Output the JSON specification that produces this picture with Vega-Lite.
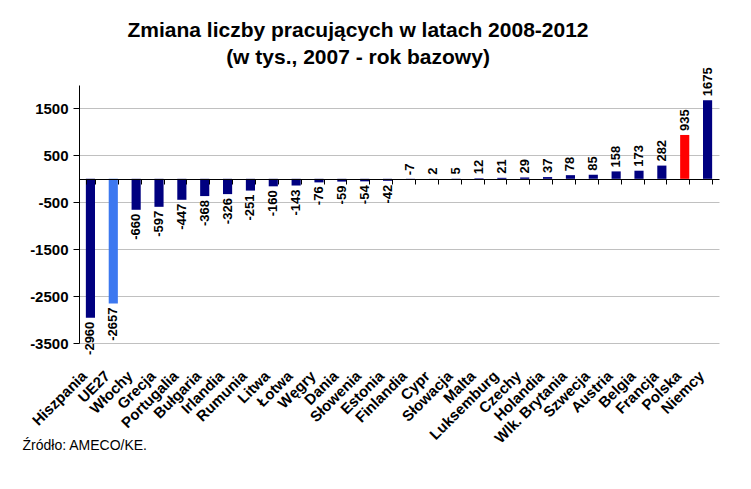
{
  "$schema": "https://vega.github.io/schema/vega-lite/v6.json",
  "width": 640,
  "height": 258,
  "autosize": "none",
  "padding": {"left": 79, "top": 85, "right": 32, "bottom": 146},
  "background": "white",
  "config": {
    "view": {"stroke": null},
    "font": "Liberation Sans",
    "locale": {
      "number": {"decimal": ".", "thousands": "", "grouping": [3], "currency": ["", ""], "minus": "-"}
    }
  },
  "title": {
    "text": ["Zmiana liczby pracujących w latach 2008-2012", "(w tys., 2007 - rok bazowy)"],
    "font": "Liberation Sans",
    "fontSize": 21,
    "fontWeight": "bold",
    "lineHeight": 27,
    "color": "black",
    "anchor": "middle",
    "dx": -41,
    "offset": -1
  },
  "data": {
    "values": [
      {"kraj": "Hiszpania", "wartosc": -2960},
      {"kraj": "UE27", "wartosc": -2657},
      {"kraj": "Włochy", "wartosc": -660},
      {"kraj": "Grecja", "wartosc": -597},
      {"kraj": "Portugalia", "wartosc": -447},
      {"kraj": "Bułgaria", "wartosc": -368},
      {"kraj": "Irlandia", "wartosc": -326},
      {"kraj": "Rumunia", "wartosc": -251},
      {"kraj": "Litwa", "wartosc": -160},
      {"kraj": "Łotwa", "wartosc": -143},
      {"kraj": "Węgry", "wartosc": -76},
      {"kraj": "Dania", "wartosc": -59},
      {"kraj": "Słowenia", "wartosc": -54},
      {"kraj": "Estonia", "wartosc": -42},
      {"kraj": "Finlandia", "wartosc": -7},
      {"kraj": "Cypr", "wartosc": 2},
      {"kraj": "Słowacja", "wartosc": 5},
      {"kraj": "Malta", "wartosc": 12},
      {"kraj": "Luksemburg", "wartosc": 21},
      {"kraj": "Czechy", "wartosc": 29},
      {"kraj": "Holandia", "wartosc": 37},
      {"kraj": "Wlk. Brytania", "wartosc": 78},
      {"kraj": "Szwecja", "wartosc": 85},
      {"kraj": "Austria", "wartosc": 158},
      {"kraj": "Belgia", "wartosc": 173},
      {"kraj": "Francja", "wartosc": 282},
      {"kraj": "Polska", "wartosc": 935},
      {"kraj": "Niemcy", "wartosc": 1675}
    ]
  },
  "encoding": {
    "y": {
      "field": "wartosc",
      "type": "quantitative",
      "scale": {"domain": [-3500, 2000], "nice": false},
      "axis": {
        "title": null,
        "values": [-3500, -2500, -1500, -500, 500, 1500],
        "format": "d",
        "grid": true,
        "gridColor": "#C0C0C0",
        "domainColor": "black",
        "tickColor": "black",
        "tickSize": 6,
        "labelFontSize": 15,
        "labelFontWeight": "bold",
        "labelColor": "black",
        "labelPadding": 5
      }
    }
  },
  "resolve": {"axis": {"x": "independent"}},
  "layer": [
    {
      "mark": {"type": "bar"},
      "encoding": {
        "x": {
          "field": "kraj",
          "type": "nominal",
          "sort": null,
          "scale": {"paddingInner": 0.6, "paddingOuter": 0.3},
          "axis": {
            "orient": "bottom",
            "title": "Źródło: AMECO/KE.",
            "titleFontSize": 14,
            "titleFontWeight": "normal",
            "titleColor": "black",
            "titleAlign": "left",
            "titleBaseline": "middle",
            "titleX": -57,
            "titleY": 102,
            "domain": false,
            "ticks": false,
            "grid": false,
            "labelAngle": -45,
            "labelAlign": "right",
            "labelBaseline": "middle",
            "labelFontSize": 15,
            "labelFontWeight": "bold",
            "labelColor": "black",
            "labelPadding": 30,
            "labelOffset": -6,
            "labelOverlap": false,
            "labelBound": false,
            "labelLimit": 0
          }
        },
        "color": {
          "condition": [
            {"test": "datum.kraj === 'UE27'", "value": "#3C78F0"},
            {"test": "datum.kraj === 'Polska'", "value": "#FF0000"}
          ],
          "value": "#000080"
        }
      }
    },
    {
      "transform": [{"filter": "datum.wartosc > -20"}],
      "mark": {"type": "text", "angle": 270, "align": "left", "baseline": "middle", "dx": 4, "fontSize": 13, "fontWeight": "bold", "color": "black"},
      "encoding": {
        "x": {"field": "kraj", "type": "nominal", "sort": null, "axis": null},
        "text": {"field": "wartosc", "type": "quantitative", "format": "d"}
      }
    },
    {
      "transform": [{"filter": "datum.wartosc <= -20"}],
      "mark": {"type": "text", "angle": 270, "align": "right", "baseline": "middle", "dx": -4, "fontSize": 13, "fontWeight": "bold", "color": "black"},
      "encoding": {
        "x": {
          "field": "kraj",
          "type": "nominal",
          "sort": null,
          "axis": {
            "orient": "bottom",
            "offset": -164,
            "title": null,
            "labels": false,
            "grid": false,
            "domainColor": "black",
            "tickColor": "black",
            "tickSize": 5,
            "tickBand": "extent",
            "zindex": 1
          }
        },
        "text": {"field": "wartosc", "type": "quantitative", "format": "d"}
      }
    }
  ]
}
